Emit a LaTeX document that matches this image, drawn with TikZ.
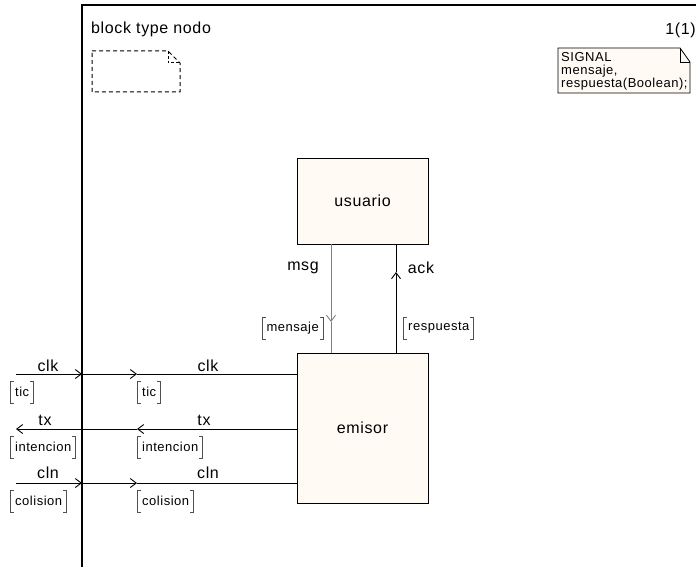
\documentclass[tikz,border=0pt]{standalone}
\usepackage{fontspec}
\setmainfont{Liberation Sans}[LetterSpace=4]
\newfontfamily\smallfont{Liberation Sans}[LetterSpace=4]
\usetikzlibrary{arrows.meta}
\definecolor{blockfill}{HTML}{FFFAF4}
\definecolor{brkgray}{HTML}{505050}

\tikzset{
  blk/.style={draw, fill=blockfill, line width=0.9pt, minimum width=131pt, font=\fontsize{16}{18}\selectfont},
  sig/.style={line width=0.9pt},
  tip/.style={-{Straight Barb[length=6pt,width=9pt]}},
  lbl/.style={font=\fontsize{16}{18}\selectfont, inner sep=0pt},
  brk/.style={font=\smallfont\fontsize{13}{14}\selectfont, anchor=west, inner xsep=5pt, inner ysep=0pt, minimum height=22pt,
    path picture={
      \draw[brkgray, line width=0.9pt]
        ([xshift=4pt]path picture bounding box.north west) -- ([xshift=0.6pt]path picture bounding box.north west)
          -- ([xshift=0.6pt]path picture bounding box.south west) -- ([xshift=4pt]path picture bounding box.south west)
        ([xshift=-4pt]path picture bounding box.north east) -- ([xshift=-0.6pt]path picture bounding box.north east)
          -- ([xshift=-0.6pt]path picture bounding box.south east) -- ([xshift=-4pt]path picture bounding box.south east);
    }}
}

\begin{document}
\begin{tikzpicture}[x=1pt, y=-1pt]
\useasboundingbox (0,0) rectangle (696,567);

\draw[line width=1.2pt] (82,567) -- (82,5) -- (696,5);
\node[lbl, anchor=west] (title) at (91,29) {block type nodo};
\node[lbl, anchor=east] (page) at (696,30) {1(1)};

\draw[dash pattern=on 4pt off 3pt, line width=1pt] (92,51) -- (168,51) -- (180,63) -- (180,92) -- (92,92) -- cycle;
\draw[dash pattern=on 3pt off 2pt, line width=1pt] (168,51) |- (180,63);

\draw[fill=blockfill, line width=0.8pt] (558,48) -- (680,48) -- (690,62) -- (690,93) -- (558,93) -- cycle;
\draw[line width=0.8pt] (680,48) |- (690,62);
\node[font=\smallfont\fontsize{13}{13}\selectfont, anchor=north west, align=left, inner sep=0pt] (decl) at (561,52) {SIGNAL\\mensaje,\\respuesta(Boolean);};

\node[blk, minimum height=86pt] (usuario) at (362.5,201) {usuario};
\node[blk, minimum height=150pt] (emisor) at (362.5,428) {emisor};

\coordinate (msgt) at (331,322);
\coordinate (ackt) at (396,272);
\draw[gray, line width=0.9pt, tip] (usuario.south -| msgt) -- (msgt);
\draw[gray, line width=0.9pt] (msgt) -- (emisor.north -| msgt);
\draw[sig, tip] (emisor.north -| ackt) -- (ackt);
\draw[sig] (ackt) -- (usuario.south -| ackt);
\node[lbl] (msg) at (303,268) {msg};
\node[lbl] (ack) at (421,268) {ack};
\node[brk, anchor=east] (mensaje) at (324,328) {mensaje};
\node[brk] (respuesta) at (403,328) {respuesta};

\coordinate (clka) at (16,374);
\coordinate (clkb) at (82,374);
\coordinate (clkc) at (137,374);
\draw[sig, tip] (clka) -- (clkb);
\draw[sig, tip] (clkb) -- (clkc);
\draw[sig] (clkc) -- (emisor.west |- clkc);
\node[lbl] (clk1) at (48,366) {clk};
\node[lbl] (clk2) at (208,366) {clk};
\node[brk] (tic1) at (10,392) {tic\hspace{4pt}};
\node[brk] (tic2) at (137,392) {tic\hspace{4pt}};

\coordinate (txa) at (16,429);
\coordinate (txc) at (137,429);
\draw[sig, tip] (emisor.west |- txc) -- (txc);
\draw[sig, tip] (txc) -- (txa);
\node[lbl] (tx1) at (45,420) {tx};
\node[lbl] (tx2) at (204,420) {tx};
\node[brk] (int1) at (10,447) {intencion};
\node[brk] (int2) at (137,447) {intencion};

\coordinate (clna) at (16,483);
\coordinate (clnb) at (82,483);
\coordinate (clnc) at (137,483);
\draw[sig, tip] (clna) -- (clnb);
\draw[sig, tip] (clnb) -- (clnc);
\draw[sig] (clnc) -- (emisor.west |- clnc);
\node[lbl] (cln1) at (48,473) {cln};
\node[lbl] (cln2) at (208,473) {cln};
\node[brk] (col1) at (10,501) {colision};
\node[brk] (col2) at (137,501) {colision};

\end{tikzpicture}
\end{document}
